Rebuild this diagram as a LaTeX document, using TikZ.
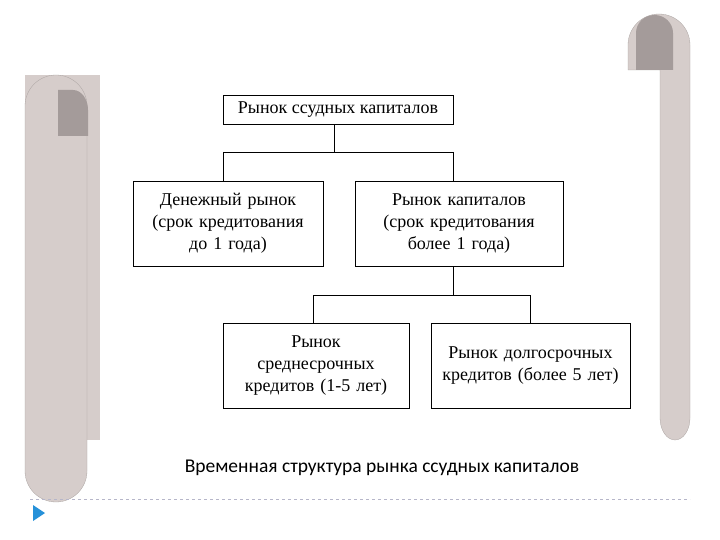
\documentclass[tikz,border=0pt]{standalone}
\usepackage{fontspec}
\setmainfont{Liberation Serif}
\newfontfamily\capfont{Carlito}
\begin{document}
\begin{tikzpicture}[x=1pt,y=-1pt,
  bx/.style={draw,thick,fill=white,align=center,inner sep=2pt,font=\fontsize{18}{22}\selectfont},
  ln/.style={line width=0.8pt},
  scr/.style={fill=scrollc,draw=scrollc!80!black,line width=0.3pt}]
\definecolor{scrollc}{HTML}{D6CDCB}
\definecolor{scrolld}{HTML}{A49B9A}
\useasboundingbox (0,0) rectangle (720,540);
% left scroll
\fill[scrollc] (25,75) rectangle (100,440);
\path[scr] (25,106) arc (180:360:31) -- (87,471) arc (0:180:31) -- cycle;
\fill[scrolld] (58,136) -- (58,90) -- (73,90) arc (270:360:15 and 20) -- (88,136) -- cycle;
% right scroll
\path[scr] (628,45) arc (180:360:31) -- (690,418) arc (0:180:15 and 22) -- (660,70) -- (628,70) -- cycle;
\fill[scrolld] (636,70) -- (636,33) arc (180:360:18.5 and 18) -- (673,70) -- cycle;
% boxes
\node[bx,minimum width=230,minimum height=29] (top) at (338,109.5) {Рынок ссудных капиталов};
\node[bx,minimum width=190,minimum height=85,text width=184] (l) at (228,223.5) {Денежный рынок\\(срок кредитования\\до 1 года)};
\node[bx,minimum width=208,minimum height=85,text width=200] (r) at (459,223.5) {Рынок капиталов\\(срок кредитования\\более 1 года)};
\node[bx,minimum width=186,minimum height=85,text width=180] (bl) at (316,365.5) {Рынок\\среднесрочных\\кредитов (1-5 лет)};
\node[bx,minimum width=199,minimum height=85,text width=189,anchor=north,inner sep=5pt] (br) at (530.5,323) {Рынок долгосрочных\\кредитов (более 5 лет)};
% connectors
\coordinate (j1) at (334,152);
\draw[ln] (top.south -| j1) -- (j1);
\draw[ln] (223,152) -- (453,152);
\draw[ln] (223,152) -- (l.north -| 223,0);
\draw[ln] (453,152) -- (r.north -| 453,0);
\draw[ln] (r.south -| 453,0) -- (453,295);
\draw[ln] (313,295) -- (530,295);
\draw[ln] (313,295) -- (bl.north -| 313,0);
\draw[ln] (530,295) -- (br.north -| 530,0);
% caption
\node[font=\capfont\fontsize{19.5}{22}\selectfont] (cap) at (382,468) {Временная структура рынка ссудных капиталов};
\coordinate (d1) at (30,499); \coordinate (d2) at (690,499);
\draw[dashed,draw=blue!15!gray!50,line width=0.6pt] (d1) -- (d2);
\fill[blue!40!cyan!70!gray] (33,505) -- (45,513) -- (33,521) -- cycle;
\end{tikzpicture}
\end{document}
